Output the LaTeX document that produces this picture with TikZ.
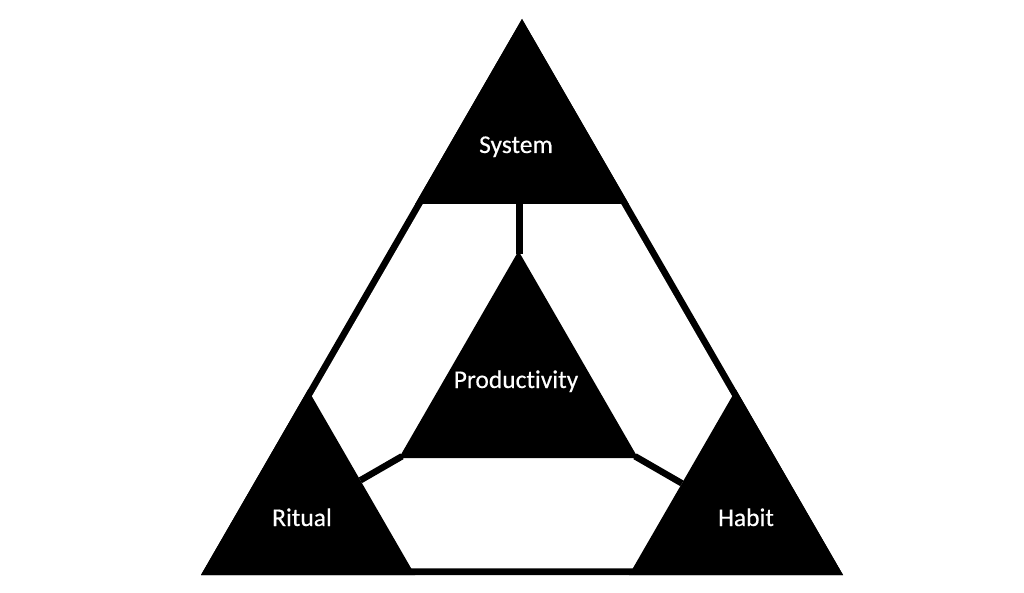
\documentclass[tikz,border=0pt]{standalone}
\usepackage{fontspec}
\setmainfont[Ligatures=NoCommon,FakeBold=0.4]{Carlito}
\usetikzlibrary{calc}
\begin{document}
\begin{tikzpicture}[x=1pt,y=-1pt,
  lbl/.style={text=white,anchor=base,inner sep=0pt,font=\fontsize{25.5}{30}\selectfont},
  conn/.style={line width=6.5pt,line cap=butt}]
\useasboundingbox (0,0) rectangle (1024,593);
\fill[white] (0,0) rectangle (1024,593);
% outer triangle
\coordinate (A) at (522,19);
\coordinate (B) at (201,575);
\coordinate (C) at (843,575);
\coordinate (G) at (522,390.3);
\fill[black] (A) -- (B) -- (C) -- cycle;
\fill[white] ($(G)!0.964!(A)$) -- ($(G)!0.964!(B)$) -- ($(G)!0.964!(C)$) -- cycle;
% corner triangles
\coordinate (s1) at (415.2,204);
\coordinate (s2) at (628.8,204);
\fill[black] (A) -- (s1) -- (s2) -- cycle;
\coordinate (r1) at (415,575);
\coordinate (r2) at (308,389.7);
\fill[black] (B) -- (r1) -- (r2) -- cycle;
\coordinate (h1) at (629,575);
\coordinate (h2) at (736,389.7);
\fill[black] (C) -- (h1) -- (h2) -- cycle;
% center triangle
\coordinate (p1) at (518.5,251);
\coordinate (p2) at (399,458);
\coordinate (p3) at (638,458);
\fill[black] (p1) -- (p2) -- (p3) -- cycle;
% connectors
\coordinate (ps) at (519.5,200);
\draw[conn] (ps) -- (519.5,254);
\draw[conn] ($(p2)+(3,-1.7)$) -- ($(r1)!(p2)!(r2)$);
\draw[conn] ($(p3)+(-3,-1.7)$) -- ($(h1)!(p3)!(h2)$);
% labels
\node[lbl] (sys) at (516,153) {System};
\node[lbl] (prod) at (516,388) {Productivity};
\node[lbl] (rit) at (302,526) {Ritual};
\node[lbl] (hab) at (746,526) {Habit};
\end{tikzpicture}
\end{document}
